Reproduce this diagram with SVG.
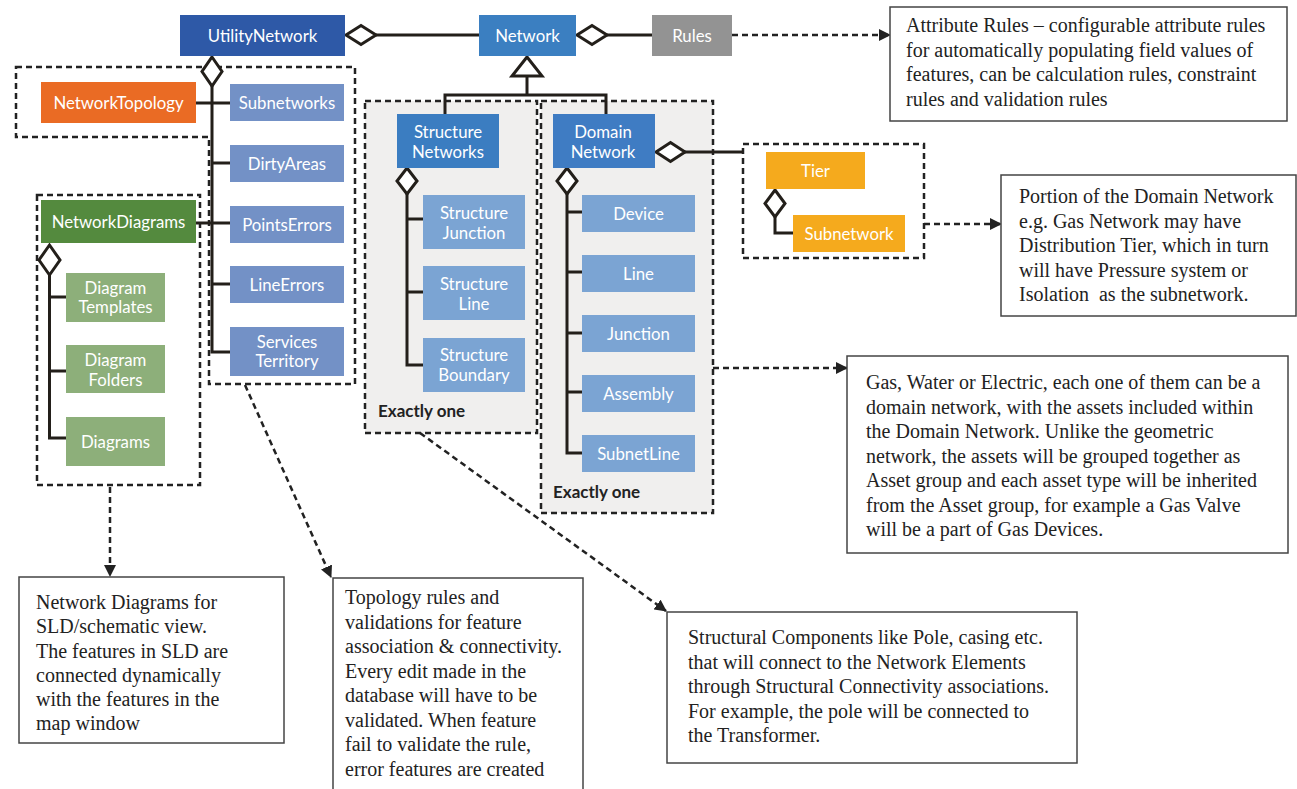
<svg xmlns="http://www.w3.org/2000/svg" width="1297" height="789" viewBox="0 0 1297 789">
<defs>
<style>
.lbl{font-family:Lato,"Open Sans","Noto Sans",sans-serif;font-size:16.8px;fill:#fff;text-anchor:middle;dominant-baseline:central}
.note{font-family:"Liberation Serif","Times New Roman",serif;font-size:20px;fill:#222}
.bold{font-family:Lato,"Open Sans",sans-serif;font-size:17px;font-weight:bold;fill:#222}
.ln{fill:none;stroke:#231f1a;stroke-width:3}
.dia{fill:#fff;stroke:#231f1a;stroke-width:3;stroke-linejoin:miter}
.dash{fill:none;stroke:#222;stroke-width:2.5;stroke-dasharray:6 4}
.cont{fill:#f0efee;stroke:#222;stroke-width:2.5;stroke-dasharray:6 4}
.darr{fill:none;stroke:#222;stroke-width:2.5;stroke-dasharray:6 4;marker-end:url(#ah)}
.nbox{fill:#fff;stroke:#444;stroke-width:1.5}
</style>
<marker id="ah" viewBox="0 0 12 12" refX="11" refY="6" markerWidth="12" markerHeight="12" markerUnits="userSpaceOnUse" orient="auto">
<path d="M0,0 L12,6 L0,12 Z" fill="#222"/>
</marker>
</defs>
<rect width="1297" height="789" fill="#fff"/>

<!-- containers -->
<g id="containers">
<path class="dash" d="M16,67 H355 V384 H209 V137 H16 Z"/>
<rect class="dash" x="37" y="195" width="163" height="290"/>
<rect class="cont" x="365" y="101" width="172" height="332"/>
<rect class="cont" x="541" y="101" width="172" height="412"/>
<rect class="dash" x="743" y="144" width="181" height="114"/>
<text class="bold" x="378" y="417">Exactly one</text>
<text class="bold" x="553" y="498">Exactly one</text>
</g>

<!-- connectors -->
<g id="connectors">
<line class="ln" x1="376" y1="35" x2="479" y2="35"/>
<line class="ln" x1="607" y1="35" x2="652" y2="35"/>
<polyline class="ln" points="527,76 527,95"/>
<polyline class="ln" points="445,114 445,95 606,95 606,114"/>
<polyline class="ln" points="212,86 212,352 230,352"/>
<line class="ln" x1="196" y1="103" x2="230" y2="103"/>
<line class="ln" x1="212" y1="163" x2="230" y2="163"/>
<line class="ln" x1="196" y1="223" x2="230" y2="223"/>
<line class="ln" x1="212" y1="284" x2="230" y2="284"/>
<polyline class="ln" points="407,194 407,365 423,365"/>
<line class="ln" x1="407" y1="219" x2="423" y2="219"/>
<line class="ln" x1="407" y1="292" x2="423" y2="292"/>
<polyline class="ln" points="567,194 567,453 582,453"/>
<line class="ln" x1="567" y1="212" x2="582" y2="212"/>
<line class="ln" x1="567" y1="272" x2="582" y2="272"/>
<line class="ln" x1="567" y1="333" x2="582" y2="333"/>
<line class="ln" x1="567" y1="392" x2="582" y2="392"/>
<line class="ln" x1="685" y1="152" x2="743" y2="152"/>
<polyline class="ln" points="49.5,275 49.5,438 66,438"/>
<line class="ln" x1="49.5" y1="297" x2="66" y2="297"/>
<line class="ln" x1="49.5" y1="371" x2="66" y2="371"/>
<polyline class="ln" points="775,217 775,233 793,233"/>
<polygon class="dia" points="346,35 361,25.5 376,35 361,44.5"/>
<polygon class="dia" points="577,35 592,25.5 607,35 592,44.5"/>
<polygon class="dia" points="656,152 670.5,142.5 685,152 670.5,161.5"/>
<polygon class="dia" points="212,57 222,71.5 212,86 202,71.5"/>
<polygon class="dia" points="407,168 417,181 407,194 397,181"/>
<polygon class="dia" points="567,168 577,181 567,194 557,181"/>
<polygon class="dia" points="49.5,245 60,260 49.5,275 39,260"/>
<polygon class="dia" points="775,190 785,203.5 775,217 765,203.5"/>
<polygon class="dia" points="527,57 542,76 512,76"/>
<line class="darr" x1="732" y1="35" x2="890" y2="35"/>
<line class="darr" x1="924" y1="224" x2="1001" y2="224"/>
<line class="darr" x1="713" y1="368" x2="847" y2="368"/>
<line class="darr" x1="420" y1="433" x2="666" y2="611"/>
<line class="darr" x1="245" y1="385" x2="331" y2="577"/>
<line class="darr" x1="110" y1="487" x2="110" y2="576"/>
</g>

<g id="utilitynetwork"><rect x="180" y="15" width="165" height="41" fill="#2e59a7"/><text class="lbl" x="262.5" y="35.5">UtilityNetwork</text></g>
<g id="network"><rect x="479" y="15" width="97" height="41" fill="#3b7fc1"/><text class="lbl" x="527.5" y="35.5">Network</text></g>
<g id="rules"><rect x="652" y="15" width="80" height="41" fill="#939393"/><text class="lbl" x="692" y="35.5">Rules</text></g>
<g id="networktopology"><rect x="41" y="82" width="155" height="41" fill="#ea6b24"/><text class="lbl" x="118.5" y="102.5">NetworkTopology</text></g>
<g id="subnetworks"><rect x="230" y="84" width="114" height="37" fill="#7391c6"/><text class="lbl" x="287" y="102.5">Subnetworks</text></g>
<g id="dirtyareas"><rect x="230" y="145" width="114" height="37" fill="#7391c6"/><text class="lbl" x="287" y="163.5">DirtyAreas</text></g>
<g id="pointserrors"><rect x="230" y="206" width="114" height="37" fill="#7391c6"/><text class="lbl" x="287" y="224.5">PointsErrors</text></g>
<g id="lineerrors"><rect x="230" y="266" width="114" height="37" fill="#7391c6"/><text class="lbl" x="287" y="284.5">LineErrors</text></g>
<g id="servicesterritory"><rect x="230" y="327" width="114" height="49" fill="#7391c6"/><text class="lbl" x="287" y="341.5">Services</text><text class="lbl" x="287" y="360.5">Territory</text></g>
<g id="networkdiagrams"><rect x="41" y="200" width="155" height="43" fill="#548a3e"/><text class="lbl" x="118.5" y="221.5">NetworkDiagrams</text></g>
<g id="diagramtemplates"><rect x="66" y="273" width="99" height="49" fill="#8daf7a"/><text class="lbl" x="115.5" y="287.5">Diagram</text><text class="lbl" x="115.5" y="306.5">Templates</text></g>
<g id="diagramfolders"><rect x="66" y="345" width="99" height="48" fill="#8daf7a"/><text class="lbl" x="115.5" y="359.5">Diagram</text><text class="lbl" x="115.5" y="379.5">Folders</text></g>
<g id="diagrams"><rect x="66" y="417" width="99" height="49" fill="#8daf7a"/><text class="lbl" x="115.5" y="441.5">Diagrams</text></g>
<g id="structurenetworks"><rect x="397" y="114" width="102" height="54" fill="#3b7dc1"/><text class="lbl" x="448" y="131.5">Structure</text><text class="lbl" x="448" y="151.5">Networks</text></g>
<g id="domainnetwork"><rect x="553" y="114" width="102" height="54" fill="#3f7cc3"/><text class="lbl" x="603" y="131.5">Domain</text><text class="lbl" x="603" y="151.5">Network</text></g>
<g id="structurejunction"><rect x="423" y="195" width="102" height="54" fill="#7ba4d3"/><text class="lbl" x="474" y="212.5">Structure</text><text class="lbl" x="474" y="232.5">Junction</text></g>
<g id="structureline"><rect x="423" y="266" width="102" height="54" fill="#7ba4d3"/><text class="lbl" x="474" y="283.5">Structure</text><text class="lbl" x="474" y="303.5">Line</text></g>
<g id="structureboundary"><rect x="423" y="338" width="102" height="54" fill="#7ba4d3"/><text class="lbl" x="474" y="354.5">Structure</text><text class="lbl" x="474" y="374.5">Boundary</text></g>
<g id="device"><rect x="582" y="195" width="113" height="37" fill="#7ba4d3"/><text class="lbl" x="638.5" y="213.5">Device</text></g>
<g id="line"><rect x="582" y="255" width="113" height="37" fill="#7ba4d3"/><text class="lbl" x="638.5" y="273.5">Line</text></g>
<g id="junction"><rect x="582" y="315" width="113" height="37" fill="#7ba4d3"/><text class="lbl" x="638.5" y="333.5">Junction</text></g>
<g id="assembly"><rect x="582" y="375" width="113" height="37" fill="#7ba4d3"/><text class="lbl" x="638.5" y="393.5">Assembly</text></g>
<g id="subnetline"><rect x="582" y="435" width="113" height="37" fill="#7ba4d3"/><text class="lbl" x="638.5" y="453.5">SubnetLine</text></g>
<g id="tier"><rect x="766" y="152" width="99" height="37" fill="#f5aa1d"/><text class="lbl" x="815.5" y="170.5">Tier</text></g>
<g id="subnetwork"><rect x="793" y="215" width="112" height="37" fill="#f5aa1d"/><text class="lbl" x="849" y="233.5">Subnetwork</text></g>

<g id="note-attribute"><rect class="nbox" x="890" y="7" width="397" height="114"/>
<text class="note"><tspan x="906" y="32">Attribute Rules – configurable attribute rules</tspan><tspan x="906" y="56.5">for automatically populating field values of</tspan><tspan x="906" y="81">features, can be calculation rules, constraint</tspan><tspan x="906" y="105.5">rules and validation rules</tspan></text></g>
<g id="note-portion"><rect class="nbox" x="1001" y="175" width="295" height="141"/>
<text class="note"><tspan x="1019" y="203">Portion of the Domain Network</tspan><tspan x="1019" y="227.5">e.g. Gas Network may have</tspan><tspan x="1019" y="252">Distribution Tier, which in turn</tspan><tspan x="1019" y="276.5">will have Pressure system or</tspan><tspan x="1019" y="301">Isolation&#160; as the subnetwork.</tspan></text></g>
<g id="note-gas"><rect class="nbox" x="847" y="356" width="441" height="197"/>
<text class="note"><tspan x="866" y="389">Gas, Water or Electric, each one of them can be a</tspan><tspan x="866" y="413.5">domain network, with the assets included within</tspan><tspan x="866" y="438">the Domain Network. Unlike the geometric</tspan><tspan x="866" y="462.5">network, the assets will be grouped together as</tspan><tspan x="866" y="487">Asset group and each asset type will be inherited</tspan><tspan x="866" y="511.5">from the Asset group, for example a Gas Valve</tspan><tspan x="866" y="536">will be a part of Gas Devices.</tspan></text></g>
<g id="note-structural"><rect class="nbox" x="667" y="612" width="410" height="151"/>
<text class="note"><tspan x="688" y="644">Structural Components like Pole, casing etc.</tspan><tspan x="688" y="668.5">that will connect to the Network Elements</tspan><tspan x="688" y="693">through Structural Connectivity associations.</tspan><tspan x="688" y="717.5">For example, the pole will be connected to</tspan><tspan x="688" y="742">the Transformer.</tspan></text></g>
<g id="note-diagrams"><rect class="nbox" x="19" y="577" width="265" height="166"/>
<text class="note"><tspan x="36" y="609">Network Diagrams for</tspan><tspan x="36" y="633">SLD/schematic view.</tspan><tspan x="36" y="657.5">The features in SLD are</tspan><tspan x="36" y="681.5">connected dynamically</tspan><tspan x="36" y="706">with the features in the</tspan><tspan x="36" y="730">map window</tspan></text></g>
<g id="note-topology"><rect class="nbox" x="333" y="578" width="250" height="220"/>
<text class="note"><tspan x="345" y="604">Topology rules and</tspan><tspan x="345" y="628.5">validations for feature</tspan><tspan x="345" y="653">association &amp; connectivity.</tspan><tspan x="345" y="677.5">Every edit made in the</tspan><tspan x="345" y="702">database will have to be</tspan><tspan x="345" y="726.5">validated. When feature</tspan><tspan x="345" y="751">fail to validate the rule,</tspan><tspan x="345" y="775.5">error features are created</tspan></text></g>
</svg>
